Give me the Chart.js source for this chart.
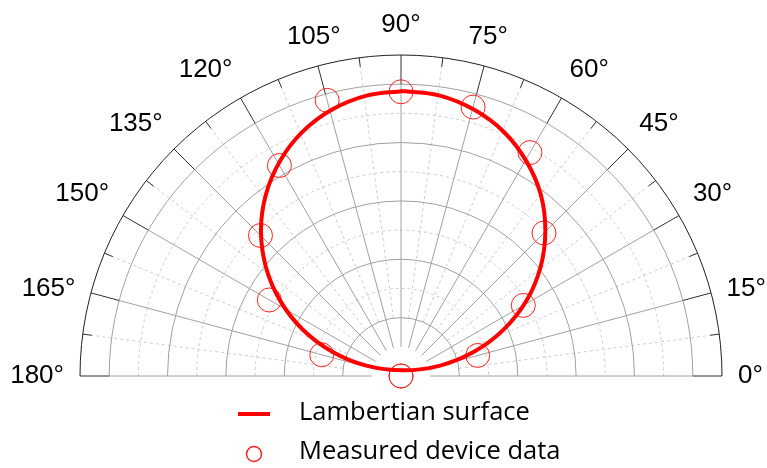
<!DOCTYPE html>
<html>
<head>
<meta charset="utf-8">
<script src="https://cdn.jsdelivr.net/npm/chart.js@4.4.1/dist/chart.umd.min.js"></script>
<style>
  html, body { margin: 0; padding: 0; background: #ffffff; }
  #wrap { width: 767px; height: 468px; position: relative; }
</style>
</head>
<body>
<div id="wrap"><canvas id="c" width="767" height="468"></canvas></div>
<script>
// Angular ticks of the half-polar axis (degrees)
const angleTicks = [0, 15, 30, 45, 60, 75, 90, 105, 120, 135, 150, 165, 180];
const angleTickLabels = angleTicks.map(a => a + '°');

// Radial grid: solid rings, dashed rings, outer limit
const ringsSolid = [0.2, 0.4, 0.6, 0.8, 1.0];
const ringsDashed = [0.3, 0.5, 0.7, 0.9];
const rMax = 1.1;

// Measured device data (angle in degrees, normalised intensity)
const measuredAngle = [0, 15, 30, 45, 60, 75, 90, 105, 120, 135, 150, 165, 180];
const measuredValue = [0, 0.272, 0.484, 0.693, 0.884, 0.954, 0.974, 0.978, 0.833, 0.681, 0.521, 0.281, 0];

// Lambertian surface curve, traced around the loop (angle in degrees, radius)
const lambertAngle = [89.5, 82.1, 74.6, 67.2, 59.8, 52.4, 45.2, 38.0, 31.0, 24.4, 18.4, 14.9,
                      68.3, 163.3, 160.5, 154.7, 148.0, 141.1, 133.9, 126.7, 119.3, 112.0, 104.5, 97.0];
const lambertValue = [0.977, 0.970, 0.946, 0.908, 0.853, 0.785, 0.702, 0.607, 0.502, 0.387, 0.265, 0.139,
                      0.021, 0.124, 0.250, 0.373, 0.489, 0.595, 0.692, 0.775, 0.846, 0.902, 0.943, 0.968];

const seriesNames = ['Lambertian surface', 'Measured device data'];
const RED = '#ff0000';

const rad = d => d * Math.PI / 180;
function toXY(angles, values) {
  return angles.map((a, i) => ({ x: values[i] * Math.cos(rad(a)), y: values[i] * Math.sin(rad(a)) }));
}
const lambertPts = toXY(lambertAngle, lambertValue);
lambertPts.push({ ...lambertPts[0] });
const measuredPts = toXY(measuredAngle, measuredValue);

// Half-polar grid, drawn under the datasets
const polarGrid = {
  id: 'polarGrid',
  beforeDatasetsDraw(chart) {
    const { ctx, scales: { x, y } } = chart;
    const cx = x.getPixelForValue(0);
    const cy = y.getPixelForValue(0);
    const px = r => x.getPixelForValue(r) - cx;
    const ray = (deg, r0, r1) => {
      const c = Math.cos(rad(deg)), s = Math.sin(rad(deg));
      ctx.beginPath();
      ctx.moveTo(cx + r0 * c, cy - r0 * s);
      ctx.lineTo(cx + r1 * c, cy - r1 * s);
      ctx.stroke();
    };
    ctx.save();
    ctx.lineWidth = 1;

    // dashed rings and dashed half-step spokes
    ctx.strokeStyle = '#cccccc';
    ctx.setLineDash([3, 3]);
    ringsDashed.forEach(r => {
      ctx.beginPath();
      ctx.arc(cx, cy, px(r), Math.PI, 2 * Math.PI);
      ctx.stroke();
    });
    for (let k = 0; k < angleTicks.length - 1; k++) {
      ray(angleTicks[k] + 7.5, px(0.2), px(rMax));
    }
    ctx.setLineDash([]);

    // solid rings and main spokes
    ctx.strokeStyle = '#a0a0a0';
    ringsSolid.forEach(r => {
      ctx.beginPath();
      ctx.arc(cx, cy, px(r), Math.PI, 2 * Math.PI);
      ctx.stroke();
    });
    angleTicks.forEach(a => ray(a, px(0.1), px(1.0)));

    // outer band: dark spokes and ticks
    ctx.strokeStyle = '#303030';
    angleTicks.forEach(a => ray(a, px(1.0), px(rMax)));
    for (let k = 0; k < angleTicks.length - 1; k++) {
      ray(angleTicks[k] + 7.5, px(rMax) - 9, px(rMax));
    }
    ctx.strokeStyle = '#202020';
    ctx.beginPath();
    ctx.arc(cx, cy, px(rMax), Math.PI, 2 * Math.PI);
    ctx.stroke();
    ctx.restore();
  },
  afterDraw(chart) {
    const { ctx, scales: { x, y } } = chart;
    const cx = x.getPixelForValue(0);
    const cy = y.getPixelForValue(0);
    const px = r => x.getPixelForValue(r) - cx;

    // angle labels: anchored on a ring just outside the axis,
    // aligned away from the plot (left / centre / right, middle / bottom)
    ctx.save();
    ctx.font = '26px "Liberation Sans", Arial, sans-serif';
    ctx.fillStyle = '#000000';
    ctx.textBaseline = 'middle';
    const R0 = px(1.155);
    angleTicks.forEach((a, i) => {
      const c = Math.cos(rad(a)), s = Math.sin(rad(a));
      const ax = cx + R0 * c, ay = cy - R0 * s;
      ctx.textAlign = c > 0.3 ? 'left' : (c < -0.3 ? 'right' : 'center');
      const dy = s > 0.3 ? -14 : 0;
      ctx.fillText(angleTickLabels[i], ax, ay + dy);
    });

    // legend
    const ds = chart.data.datasets;
    ctx.textAlign = 'left';
    ctx.font = '25.5px "Open Sans", "Noto Sans", sans-serif';
    ctx.fillStyle = '#000000';
    ctx.strokeStyle = ds[0].borderColor;
    ctx.lineWidth = 4;
    ctx.beginPath();
    ctx.moveTo(238, 414);
    ctx.lineTo(270, 414);
    ctx.stroke();
    ctx.fillText(ds[0].label, 299, 413);

    ctx.strokeStyle = ds[1].pointBorderColor;
    ctx.lineWidth = 1.5;
    ctx.beginPath();
    ctx.arc(254, 454, 7.5, 0, 2 * Math.PI);
    ctx.stroke();
    ctx.fillText(ds[1].label, 299, 452);
    ctx.restore();
  }
};

new Chart(document.getElementById('c'), {
  type: 'scatter',
  data: {
    datasets: [
      {
        label: seriesNames[0],
        data: lambertPts,
        showLine: true,
        borderColor: RED,
        borderWidth: 4,
        tension: 0.4,
        pointRadius: 0,
        fill: false,
        clip: false
      },
      {
        label: seriesNames[1],
        data: measuredPts,
        showLine: false,
        pointStyle: 'circle',
        pointRadius: 12,
        pointBorderWidth: 1,
        pointBorderColor: '#ff2020',
        pointBackgroundColor: 'rgba(0,0,0,0)',
        clip: false
      }
    ]
  },
  options: {
    responsive: false,
    devicePixelRatio: 1,
    animation: false,
    layout: { padding: { left: 80, right: 45, top: 55, bottom: 92 } },
    scales: {
      x: { type: 'linear', min: -rMax, max: rMax, display: false },
      y: { type: 'linear', min: 0, max: rMax, display: false }
    },
    plugins: {
      legend: { display: false },
      tooltip: { enabled: false }
    }
  },
  plugins: [polarGrid]
});
</script>
</body>
</html>
